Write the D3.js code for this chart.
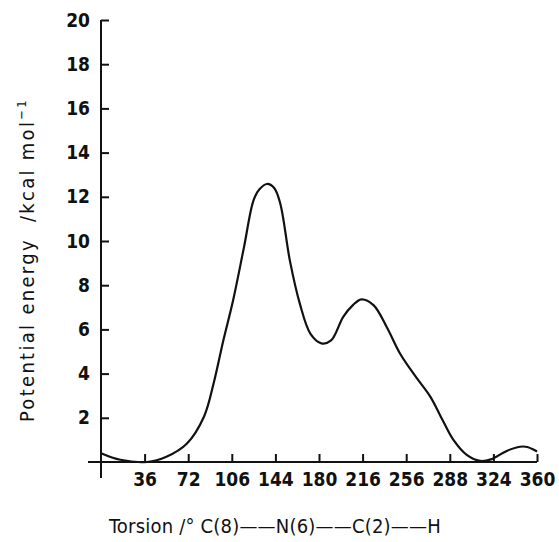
<!DOCTYPE html>
<html>
<head>
<meta charset="utf-8">
<script src="https://cdn.jsdelivr.net/npm/d3@7"></script>
<style>
  body { margin: 0; background: #fff; }
  svg { display: block; }
  text { font-family: "DejaVu Sans Condensed", "DejaVu Sans", sans-serif; fill: #111; }
</style>
</head>
<body>
<svg width="559" height="542"></svg>
<script>
// torsion angle (deg) and potential energy (kcal/mol)
const torsion = [0, 16, 38, 54, 71, 85, 93, 101, 109, 118, 126, 131, 137, 143, 148, 156, 164, 173, 182, 190, 200, 208, 215, 225, 236, 247, 260, 272, 282, 291, 302, 313, 322, 335, 346, 352, 360]
const energy  = [0.4, 0.1, 0, 0.24, 0.84, 2.05, 3.56, 5.5, 7.3, 9.7, 11.85, 12.35, 12.58, 12.4, 11.7, 9.1, 7.2, 5.8, 5.37, 5.5, 6.57, 7.1, 7.36, 7.1, 6.1, 4.9, 3.85, 2.95, 1.9, 1.0, 0.32, 0.05, 0.12, 0.5, 0.69, 0.68, 0.47]

// tick positions and the labels printed on them (as in the original figure)
const xTicks = [36, 72, 108, 144, 180, 216, 252, 288, 324, 360]
const xLabels = ["36", "72", "106", "144", "180", "216", "256", "288", "324", "360"]
const yTicks = [2, 4, 6, 8, 10, 12, 14, 16, 18, 20]

const svg = d3.select("svg")

var margin = {left: 101, right: 22, top: 20, bottom: 80},
    width = 559 - margin.left - margin.right,
    height = 542 - margin.top - margin.bottom

var x = d3.scaleLinear().domain([0, 360]).range([margin.left, margin.left + width])
var y = d3.scaleLinear().domain([0, 20]).range([margin.top + height, margin.top])

// axis lines (y axis runs a bit below the baseline, x axis a bit left of origin)
svg.append("line")
    .attr("x1", x(0)).attr("x2", x(0))
    .attr("y1", y(20)).attr("y2", y(0) + 16)
    .attr("stroke", "#111").attr("stroke-width", 2)
svg.append("line")
    .attr("x1", x(0) - 13).attr("x2", x(360))
    .attr("y1", y(0)).attr("y2", y(0))
    .attr("stroke", "#111").attr("stroke-width", 2)

var yAxis = svg.append("g")
    .attr("transform", "translate(" + x(0) + ",0)")
    .call(d3.axisLeft(y).tickValues(yTicks).tickSizeInner(-8).tickSizeOuter(0).tickPadding(11).tickFormat(d3.format("d")))
yAxis.select(".domain").remove()

var xAxis = svg.append("g")
    .attr("transform", "translate(0," + y(0) + ")")
    .call(d3.axisBottom(x).tickValues(xTicks).tickSizeInner(-8).tickSizeOuter(0).tickPadding(11)
        .tickFormat((d, i) => xLabels[i]))
xAxis.select(".domain").remove()

svg.selectAll(".tick line").attr("stroke", "#111").attr("stroke-width", 2)
svg.selectAll(".tick text")
    .style("font-size", "19px")
    .style("font-weight", "bold")
    .attr("fill", "#111")

// curve
var line = d3.line()
    .x((d, i) => x(torsion[i]))
    .y(d => y(d))
    .curve(d3.curveCatmullRom.alpha(0.5))

svg.append("path")
    .datum(energy)
    .attr("d", line)
    .attr("fill", "none")
    .attr("stroke", "#111")
    .attr("stroke-width", 2.2)

// axis titles
svg.append("text")
    .attr("transform", "translate(34," + 260 + ") rotate(-90)")
    .attr("text-anchor", "middle")
    .style("font-size", "20px")
    .style("letter-spacing", "2.3px")
    .html("Potential energy&#160;&#160;/kcal mol<tspan dy='-8' font-size='13px'>−1</tspan>")

svg.append("text")
    .attr("x", 275).attr("y", 533)
    .attr("text-anchor", "middle")
    .style("font-size", "20px")
    .style("letter-spacing", "0.2px")
    .text("Torsion /° C(8)——N(6)——C(2)——H")
</script>
</body>
</html>
